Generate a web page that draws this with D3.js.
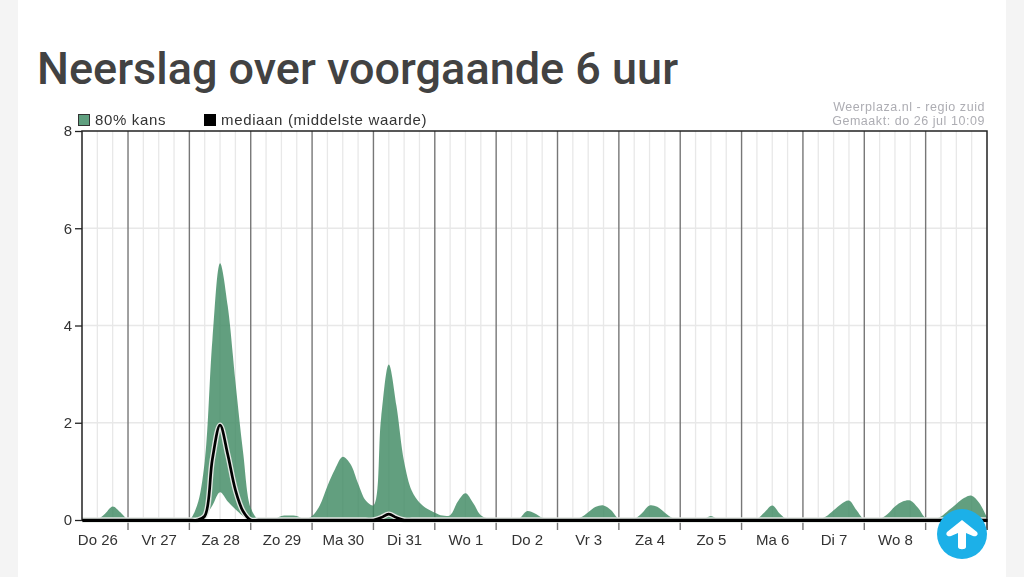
<!DOCTYPE html>
<html><head><meta charset="utf-8">
<script src="https://cdn.jsdelivr.net/npm/d3@7"></script>
<style>
html,body{margin:0;padding:0;background:#f4f4f4;overflow:hidden}
svg{display:block;position:absolute;left:0;top:0}
text{font-family:"Liberation Sans",Arial,sans-serif}
.soft{filter:blur(.45px)}
</style></head><body>
<script>
const titleText = "Neerslag over voorgaande 6 uur";
const legendLabels = ["80% kans","mediaan (middelste waarde)"];
const creditLines = ["Weerplaza.nl - regio zuid","Gemaakt: do 26 jul 10:09"];
const dayLabels = ["Do 26","Vr 27","Za 28","Zo 29","Ma 30","Di 31","Wo 1","Do 2","Vr 3","Za 4","Zo 5","Ma 6","Di 7","Wo 8","Do 9"];
const yTicks = [0,2,4,6,8];
// values every 3 hours from 26 jul 00:00; one row per day
const upper = [
 0,0,0,0,.01,.13,.28,.16,
 .01,0,0,0,0,0,0,0,
 .01,.3,1.2,3.7,5.28,4.4,2.85,1.4,
 .25,.01,0,.01,.08,.09,.08,.02,
 .08,.3,.7,1.05,1.3,1.15,.75,.4,
 .3,2.1,3.2,2.35,1.2,.6,.36,.23,
 .15,.09,.1,.38,.55,.35,.1,.03,
 .01,0,0,.03,.18,.14,.05,.01,
 0,0,.01,.05,.16,.27,.3,.2,
 .02,0,.02,.14,.3,.27,.15,.04,
 0,0,0,.01,.08,.01,0,0,
 0,0,.02,.16,.3,.13,.01,0,
 0,0,.01,.07,.2,.33,.4,.2,
 .01,0,.02,.12,.28,.38,.4,.25,
 .04,.01,.07,.2,.33,.45,.5,.35,
 .05];
const lower = [
 0,0,0,0,0,0,0,0,
 0,0,0,0,0,0,0,0,
 0,0,.08,.3,.57,.38,.22,.08,
 0,0,0,0,0,0,0,0,
 0,0,0,0,0,0,0,0,
 0,0,0,0,0,0,0,0,
 0,0,0,0,0,0,0,0,
 0,0,0,0,0,0,0,0,
 0,0,0,0,0,0,0,0,
 0,0,0,0,0,0,0,0,
 0,0,0,0,0,0,0,0,
 0,0,0,0,0,0,0,0,
 0,0,0,0,0,0,0,0,
 0,0,0,0,0,0,0,0,
 0,0,0,0,0,0,0,0,
 0];
const median = [
 0,0,0,0,0,0,0,0,
 0,0,0,0,0,0,0,0,
 0,0,.08,1.25,1.95,1.35,.62,.18,
 0,0,0,0,0,0,0,0,
 0,0,0,0,0,0,0,0,
 0,.05,.12,.05,0,0,0,0,
 0,0,0,0,0,0,0,0,
 0,0,0,0,0,0,0,0,
 0,0,0,0,0,0,0,0,
 0,0,0,0,0,0,0,0,
 0,0,0,0,0,0,0,0,
 0,0,0,0,0,0,0,0,
 0,0,0,0,0,0,0,0,
 0,0,0,0,0,0,0,0,
 0,0,0,0,0,0,0,0,
 0];
const rows = upper.map((u,i)=>({h:i*3,u,l:lower[i],m:median[i]}));

const svg = d3.select("body").append("svg").attr("width",1024).attr("height",577);
svg.append("rect").attr("x",18).attr("y",0).attr("width",988).attr("height",577).attr("fill","#fff");
svg.append("text").attr("x",37).attr("y",84).attr("fill","#424242")
  .attr("font-size",45).attr("font-weight",500).style("font-family","Roboto").text(titleText);

const x = d3.scaleLinear().domain([6,360]).range([82,987]);
const y = d3.scaleLinear().domain([0,8]).range([520,131]);
const g = svg.append("g").attr("class","soft");
const ggrid = g.append("g");
g.append("clipPath").attr("id","plot").append("rect")
  .attr("x",82).attr("y",131).attr("width",905).attr("height",389);
g.append("clipPath").attr("id","plotL").append("rect")
  .attr("x",82).attr("y",131).attr("width",905).attr("height",392);

ggrid.selectAll(".h").data(yTicks.slice(1,-1)).join("line")
  .attr("x1",82).attr("x2",987).attr("y1",d=>y(d)).attr("y2",d=>y(d)).attr("stroke","#e8e8e8").attr("stroke-width",1.3);
const hours = d3.range(12,360,6);
ggrid.selectAll(".v").data(hours.filter(h=>h%24)).join("line")
  .attr("x1",d=>x(d)).attr("x2",d=>x(d)).attr("y1",131).attr("y2",520).attr("stroke","#e8e8e8").attr("stroke-width",1.3);
ggrid.selectAll(".d").data(d3.range(24,360,24)).join("line")
  .attr("x1",d=>x(d)).attr("x2",d=>x(d)).attr("y1",131).attr("y2",530).attr("stroke","#777").attr("stroke-width",1.4);

const curve = d3.curveCatmullRom.alpha(0.5);
g.append("g").attr("clip-path","url(#plot)").append("path").datum(rows).attr("fill","#3f8a63").attr("fill-opacity",.82)
  .attr("d",d3.area().curve(curve).x(d=>x(d.h)).y0(d=>y(d.l)).y1(d=>y(d.u)));
const ln = d3.line().curve(curve).x(d=>x(d.h)).y(d=>y(d.m));
const lines = g.append("g").attr("clip-path","url(#plotL)");
lines.append("path").datum(rows).attr("fill","none").attr("stroke","#e3e8e4").attr("stroke-width",5.4).attr("d",ln);
lines.append("path").datum(rows).attr("fill","none").attr("stroke","#000").attr("stroke-width",2.7).attr("d",ln);

// frame
g.append("path").attr("fill","none").attr("stroke","#222").attr("stroke-width",1.5)
  .attr("d",`M82,520V131H987V530`);

const yAxis = d3.axisLeft(y).tickValues(yTicks).tickSize(7).tickPadding(3);
const ya = g.append("g").attr("transform","translate(82,0)").call(yAxis);
ya.select(".domain").remove();
ya.selectAll("line").attr("stroke","#222").attr("stroke-width",1.3);
ya.selectAll("text").attr("font-size",15).attr("fill","#333").style("font-family",'"Liberation Sans"');

const xAxis = d3.axisBottom(x).tickValues(d3.range(15).map(i=>i*24+12)).tickSize(0).tickPadding(14)
  .tickFormat((d,i)=>dayLabels[i]);
const xa = g.append("g").attr("transform","translate(0,520)").call(xAxis);
xa.select(".domain").attr("stroke","#000").attr("stroke-width",3);
xa.selectAll("text").attr("font-size",15).attr("fill","#333").style("font-family",'"Liberation Sans"');

const lg = g.append("g");
lg.append("rect").attr("x",78.5).attr("y",114.5).attr("width",11).attr("height",11).attr("fill","#5f9f7f").attr("stroke","#333");
lg.append("text").attr("x",95).attr("y",125).attr("font-size",15).attr("letter-spacing",.65).attr("fill","#333").text(legendLabels[0]);
lg.append("rect").attr("x",204).attr("y",114).attr("width",12).attr("height",12).attr("fill","#000");
lg.append("text").attr("x",221).attr("y",125).attr("font-size",15).attr("letter-spacing",.65).attr("fill","#333").text(legendLabels[1]);
g.selectAll(".cr").data(creditLines).join("text").attr("class","cr").attr("x",985).attr("y",(d,i)=>110.5+i*14.5)
  .attr("text-anchor","end").attr("font-size",12.5).attr("fill","#adadb3").attr("letter-spacing",.55).text(d=>d);

// floating upload button of the page
const b = svg.append("g").attr("transform","translate(962,534)");
b.append("circle").attr("r",25).attr("fill","#1cb0e8");
b.append("path").attr("fill","#fff").attr("d","M0,-14L15,-2C17,1 14,3 11,2L4,-1V13C4,16 -4,16 -4,13V-1L-11,2C-14,3 -17,1 -15,-2Z");
</script></body></html>
